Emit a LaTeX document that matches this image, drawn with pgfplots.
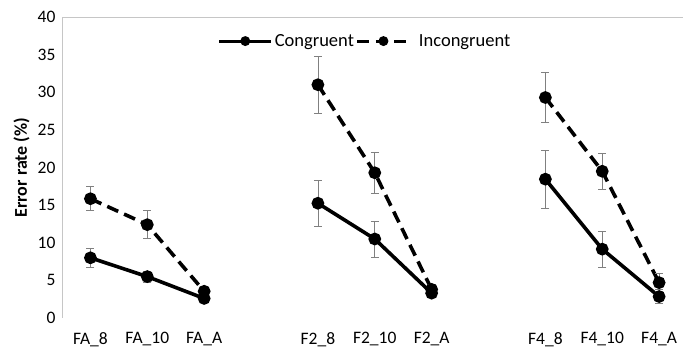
\documentclass[border=0pt]{standalone}
\usepackage{fontspec}
\setmainfont{Carlito}
\usepackage{pgfplots}
\pgfplotsset{compat=1.18}
\usepackage{pgfplotstable}
\usetikzlibrary{calc}

\pgfplotstableread{
x y e
0 8.0 1.25
1 5.5 0.75
2 2.6 0.35
3 nan 0
4 15.25 3.1
5 10.5 2.4
6 3.3 0.5
7 nan 0
8 18.45 3.85
9 9.15 2.4
10 2.85 0.9
}\congruent

\pgfplotstableread{
x y e
0 15.85 1.6
1 12.4 1.85
2 3.55 0.6
3 nan 0
4 31.0 3.8
5 19.3 2.75
6 3.8 0.65
7 nan 0
8 29.3 3.35
9 19.5 2.35
10 4.7 1.2
}\incongruent

\begin{document}
\begin{tikzpicture}
\begin{axis}[
  name=ax,
  scale only axis,
  width=621pt, height=301pt,
  xmin=-0.5, xmax=10.42,
  ymin=0, ymax=40,
  ytick={0,5,...,40},
  xtick={0,1,2,4,5,6,8,9,10},
  xticklabels={FA\_8,FA\_10,FA\_A,F2\_8,F2\_10,F2\_A,F4\_8,F4\_10,F4\_A},
  major tick length=0pt,
  axis line style={draw=none},
  /pgf/number format/assume math mode=true,
  tick label style={font=\fontsize{17.5}{20}\selectfont},
  yticklabel style={xshift=-3pt},
  xticklabel style={yshift=-11pt},
  ylabel={Error rate (\%)},
  ylabel style={font=\fontsize{18}{20}\selectfont\bfseries, at={(axis description cs:-0.065,0.5)}, anchor=center, rotate=0},
  unbounded coords=jump,
  legend columns=2,
  legend style={draw=none, fill=none, at={(axis description cs:0.488,0.92)}, anchor=center,
    font=\fontsize{18.5}{20}\selectfont,
    /tikz/every even column/.append style={column sep=0pt}},
  legend image code/.code={\draw[mark repeat=2,mark phase=2,#1,line width=3pt,every mark/.append style={scale=0.75}] plot coordinates {(0pt,0pt) (26pt,0pt) (52pt,0pt)};},
]
\draw[gray!45, line width=0.8pt] (rel axis cs:0,0) -- (rel axis cs:0,1) -- (rel axis cs:1.2,1);
\draw[gray!45, line width=0.8pt] (rel axis cs:0,0) -- (rel axis cs:1.2,0);

\addplot[black, line width=3.6pt, mark=*, mark size=4.5pt, mark options={solid},
  error bars/.cd, y dir=both, y explicit,
  error bar style={gray, line width=0.8pt, solid},
  error mark options={rotate=90, mark size=4pt, gray, line width=0.8pt, solid}]
  table[x=x, y=y, y error=e] {\congruent};
\addlegendentry{Congruent}

\addplot[black, line width=3.6pt, dash pattern=on 12pt off 6.5pt, mark=*, mark size=4.5pt, mark options={solid},
  error bars/.cd, y dir=both, y explicit,
  error bar style={gray, line width=0.8pt, solid},
  error mark options={rotate=90, mark size=4pt, gray, line width=0.8pt, solid}]
  table[x=x, y=y, y error=e] {\incongruent};
\addlegendentry{\hspace{6pt}Incongruent}
\end{axis}
\pgfresetboundingbox
\useasboundingbox ($(ax.south west)+(-62pt,-35pt)$) rectangle ($(ax.north east)+(0pt,17pt)$);
\end{tikzpicture}
\end{document}
